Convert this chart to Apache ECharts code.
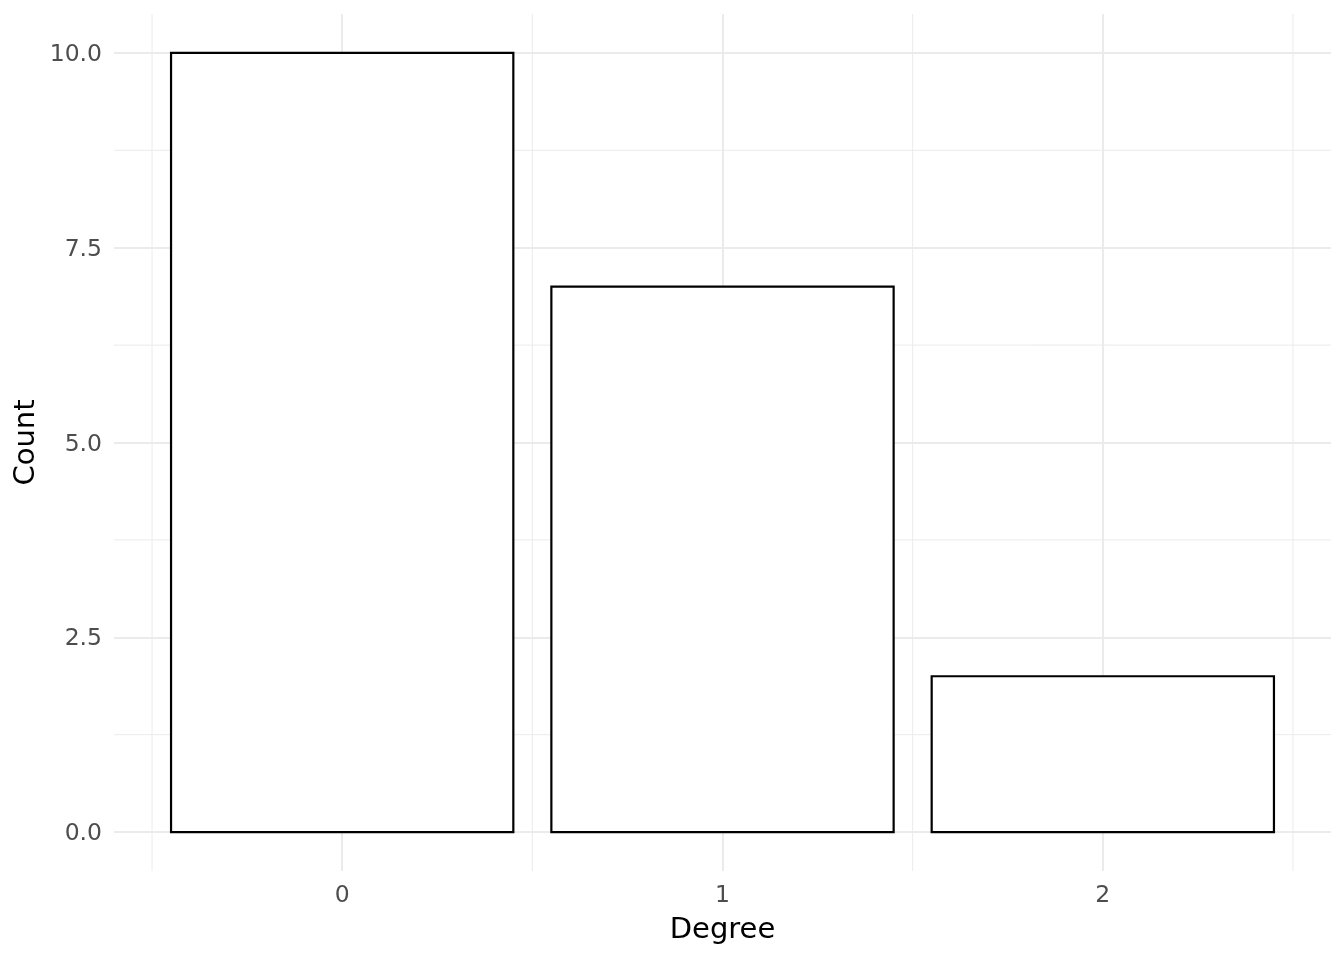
<!DOCTYPE html>
<html>
<head>
<meta charset="utf-8">
<script src="https://cdn.jsdelivr.net/npm/echarts@6/dist/echarts.min.js"></script>
<style>html,body{margin:0;padding:0;background:#fff}#c{width:1344px;height:960px}</style>
</head>
<body>
<div id="c"></div>
<script>
const degrees = [0, 1, 2];
const counts = [10, 7, 2];
const yMajorTicks = [0, 2.5, 5, 7.5, 10];
const yMinorTicks = [1.25, 3.75, 6.25, 8.75];
const xMajorTicks = [0, 1, 2];
const xMinorTicks = [-0.5, 0.5, 1.5, 2.5];
const X_MIN = -0.6, X_MAX = 2.6, Y_MIN = -0.5, Y_MAX = 10.5;
const BAR_WIDTH = 0.9;

const chart = echarts.init(document.getElementById('c'), null, {renderer: 'canvas'});
const font = 'DejaVu Sans';

function minorLines(params, api) {
  const v = api.value(0);
  const horiz = api.value(1) === 1;
  const p1 = horiz ? api.coord([X_MIN, v]) : api.coord([v, Y_MIN]);
  const p2 = horiz ? api.coord([X_MAX, v]) : api.coord([v, Y_MAX]);
  return {type: 'line', shape: {x1: p1[0], y1: p1[1], x2: p2[0], y2: p2[1]},
    style: {stroke: '#ebebeb', lineWidth: 1}, silent: true};
}
const minorData = yMinorTicks.map(v => [v, 1]).concat(xMinorTicks.map(v => [v, 0]));

chart.setOption({
  animation: false,
  backgroundColor: '#ffffff',
  grid: {left: 114, right: 13, top: 14, bottom: 89, outerBoundsMode: 'none'},
  xAxis: {
    type: 'value', min: X_MIN, max: X_MAX,
    name: 'Degree', nameLocation: 'middle', nameGap: 45,
    nameTextStyle: {color: '#000', fontSize: 29, fontFamily: font},
    axisLine: {show: false},
    axisTick: {show: false, customValues: xMajorTicks},
    axisLabel: {customValues: xMajorTicks, color: '#4d4d4d', fontSize: 23.5, fontFamily: font, margin: 13,
      formatter: v => String(v)},
    splitLine: {show: true, lineStyle: {color: '#ebebeb', width: 2}}
  },
  yAxis: {
    type: 'value', min: Y_MIN, max: Y_MAX,
    name: 'Count', nameLocation: 'middle', nameGap: 73, nameRotate: 90, nameMoveOverlap: false,
    nameTextStyle: {color: '#000', fontSize: 29, fontFamily: font},
    axisLine: {show: false},
    axisTick: {show: false, customValues: yMajorTicks},
    axisLabel: {customValues: yMajorTicks, color: '#4d4d4d', fontSize: 23.5, fontFamily: font, margin: 12,
      formatter: v => '{t|' + v.toFixed(1) + '}',
      rich: {t: {color: '#4d4d4d', fontSize: 23.5, fontFamily: font, padding: [4, 0, 0, 0]}}},
    splitLine: {show: true, lineStyle: {color: '#ebebeb', width: 2}}
  },
  series: [
    {
      type: 'custom', z: 1, silent: true,
      data: minorData,
      renderItem: minorLines,
      clip: false
    },
    {
      type: 'custom', z: 5,
      data: degrees.map((d, i) => [d, counts[i]]),
      renderItem: function (params, api) {
        const x = api.value(0), y = api.value(1);
        const p1 = api.coord([x - BAR_WIDTH / 2, y]);
        const p2 = api.coord([x + BAR_WIDTH / 2, 0]);
        return {type: 'rect', shape: {x: p1[0], y: p1[1], width: p2[0] - p1[0], height: p2[1] - p1[1]},
          style: {fill: '#ffffff', stroke: '#000000', lineWidth: 2.2}};
      }
    }
  ]
});
</script>
</body>
</html>
